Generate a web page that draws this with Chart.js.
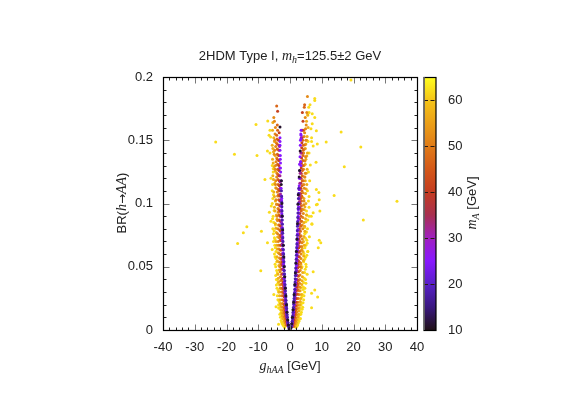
<!DOCTYPE html>
<html>
<head>
<meta charset="utf-8">
<style>
  html, body { margin: 0; padding: 0; background: #fff; }
  #wrap { position: relative; width: 581px; height: 407px; }
  canvas { position: absolute; left: 0; top: 0; }
</style>
<script src="https://cdn.jsdelivr.net/npm/chart.js@4/dist/chart.umd.min.js"></script>
</head>
<body>
<div id="wrap">
  <canvas id="scatter" width="581" height="407"></canvas>
  <canvas id="colorbar" width="581" height="407"></canvas>
</div>
<script>
const xTicks = [-40, -30, -20, -10, 0, 10, 20, 30, 40];
const yTicks = [0, 0.05, 0.1, 0.15, 0.2];
const massTicks = [10, 20, 30, 40, 50, 60];

// colour bar, mass in GeV -> colour
const paletteMass = [10, 15, 20, 25, 30, 35, 40, 45, 50, 55, 60, 65];
const paletteColor = ['#201018', '#3a1880', '#5820c8', '#8818ff', '#a020c0', '#a83050',
  '#c43c20', '#d45818', '#e07c18', '#eba018', '#f5c518', '#ffff20'];

// points, one pair of lists per colour class
const blackG = [-0.3, -0.5, -0.7, -0.95, -1.1, -1.3, -1.45, -1.65, -1.8, -1.95, -2.1, -2.3, -2.45, -2.55, -2.75, -2.7, -3.15,
  0.3, 0.55, 0.75, 0.95, 1.15, 1.3, 1.5, 1.7, 1.85, 2, 2.2, 2.35, 2.5, 2.6, 2.9, 3, 3.2, 0.1, -0.1, 0];
const blackBr = [0.001, 0.004, 0.008, 0.014, 0.02, 0.027, 0.033, 0.042, 0.05, 0.058, 0.067, 0.079, 0.09, 0.1, 0.115, 0.118, 0.1605,
  0.002, 0.005, 0.01, 0.016, 0.022, 0.028, 0.036, 0.045, 0.053, 0.062, 0.072, 0.084, 0.0995, 0.107, 0.121, 0.126, 0.1416, 0.001, 0.001, 0];

const blueG = [0.35, 0.6, 0.8, 0.95, 1.1, 1.2, 1.35, 1.5, 1.6, 1.7, 1.8, 1.95, 2.05, 2.15, 2.25, 2.35, 2.45, 2.55, 2.65, 2.75,
  -0.3, -0.55, -0.75, -0.9, -1.05, -1.2, -1.3, -1.45, -1.55, -1.7, -1.8, -1.9, -2, -2.15, -2.25, -2.35, -2.45, -2.5, -2.6, -2.7,
  0.45, 0.7, 0.88, 1.02, 1.15, 1.28, 1.42, 1.55, 1.65, 1.75, 1.88, 2, 2.1, 2.2, 2.3, 2.4, 2.5, 2.6, 2.7,
  -0.42, -0.65, -0.82, -0.98, -1.12, -1.25, -1.38, -1.5, -1.62, -1.75, -1.85, -1.95, -2.08, -2.2, -2.3, -2.4, -2.48, -2.55, -2.65];
const blueBr = [0.002, 0.005, 0.009, 0.014, 0.018, 0.023, 0.027, 0.032, 0.038, 0.043, 0.049, 0.056, 0.062, 0.068, 0.075, 0.082, 0.089, 0.096, 0.104, 0.112,
  0.002, 0.004, 0.008, 0.012, 0.017, 0.021, 0.026, 0.031, 0.036, 0.042, 0.047, 0.054, 0.06, 0.067, 0.073, 0.08, 0.087, 0.094, 0.101, 0.11,
  0.0035, 0.007, 0.0115, 0.016, 0.0205, 0.025, 0.0295, 0.035, 0.0405, 0.046, 0.0525, 0.059, 0.065, 0.0715, 0.0785, 0.0855, 0.0925, 0.1, 0.108,
  0.003, 0.006, 0.01, 0.0145, 0.019, 0.0235, 0.0285, 0.0335, 0.039, 0.0445, 0.0505, 0.057, 0.0635, 0.07, 0.0765, 0.0835, 0.0905, 0.0975, 0.1055];

const violetG = [0.5, 0.75, 0.95, 1.1, 1.25, 1.4, 1.55, 1.65, 1.8, 1.9, 2, 2.1, 2.2, 2.3, 2.4, 2.5, 2.6, 2.65, 2.75, 2.85, 2.9, 2.95, 3.1, 3, 3.15, 3.25, 3.3, 3.4, 3.5,
  -0.5, -0.7, -0.9, -1.05, -1.2, -1.35, -1.5, -1.6, -1.75, -1.85, -2, -2.05, -2.15, -2.3, -2.35, -2.45, -2.55, -2.6, -2.7, -2.6, -2.65, -2.85, -3, -3.05, -3.05, -3.15, -3.15, -3.15, -3.15,
  0.62, 0.85, 1.02, 1.18, 1.32, 1.48, 1.6, 1.72, 1.85, 1.95, 2.05, 2.15, 2.25, 2.35, 2.45, 2.55, 2.62, 2.7, 2.8, 2.88, 3.38, 3.42, 3.45, 3.5,
  -0.6, -0.8, -0.98, -1.12, -1.28, -1.42, -1.55, -1.68, -1.8, -1.92, -2.02, -2.1, -2.22, -2.32, -2.4, -2.5, -2.58, -2.65, -2.62, -2.8, -2.95, -3];
const violetBr = [0.003, 0.007, 0.011, 0.015, 0.02, 0.025, 0.03, 0.035, 0.04, 0.046, 0.051, 0.057, 0.063, 0.069, 0.076, 0.083, 0.09, 0.095, 0.1, 0.108, 0.114, 0.12, 0.126, 0.131, 0.137, 0.146, 0.15, 0.155, 0.158,
  0.003, 0.006, 0.01, 0.014, 0.018, 0.023, 0.028, 0.033, 0.038, 0.044, 0.05, 0.055, 0.061, 0.067, 0.074, 0.081, 0.087, 0.092, 0.098, 0.104, 0.106, 0.118, 0.132, 0.135, 0.138, 0.142, 0.146, 0.149, 0.152,
  0.005, 0.009, 0.013, 0.0175, 0.0225, 0.0275, 0.0325, 0.0375, 0.043, 0.0485, 0.054, 0.06, 0.066, 0.0725, 0.0795, 0.0865, 0.0925, 0.0975, 0.104, 0.111, 0.133, 0.13, 0.151, 0.154,
  0.0045, 0.008, 0.012, 0.016, 0.0205, 0.0255, 0.0305, 0.0355, 0.041, 0.047, 0.0525, 0.058, 0.064, 0.0705, 0.0775, 0.084, 0.0895, 0.095, 0.102, 0.112, 0.125, 0.128];

const magentaG = [0.65, 0.95, 1.2, 1.4, 1.6, 1.75, 1.95, 2.1, 2.25, 2.4, 2.5, 2.65, 2.75, 2.9, 3, 3.1, 3.2, 3.3, 3.4, 3.55,
  -0.6, -0.9, -1.15, -1.35, -1.55, -1.7, -1.9, -2.05, -2.2, -2.35, -2.45, -2.6, -2.7, -2.85, -2.95, -3.05, -3.15, -3.25, -3.3,
  0.8, 1.08, 1.3, 1.5, 1.68, 1.85, 2.02, 2.18, 2.32, 2.45, 2.58, 2.7, 2.82, 2.95, 3.05, 3.15,
  -0.75, -1.02, -1.25, -1.45, -1.62, -1.8, -1.98, -2.12, -2.28, -2.4, -2.52, -2.65, -2.78, -2.9, -3, -3.1];
const magentaBr = [0.004, 0.009, 0.014, 0.02, 0.026, 0.032, 0.04, 0.047, 0.055, 0.063, 0.071, 0.079, 0.088, 0.097, 0.106, 0.116, 0.124, 0.133, 0.14, 0.152,
  0.004, 0.008, 0.013, 0.018, 0.024, 0.03, 0.037, 0.044, 0.052, 0.06, 0.068, 0.076, 0.085, 0.094, 0.103, 0.112, 0.122, 0.128, 0.145,
  0.0065, 0.0115, 0.017, 0.023, 0.029, 0.036, 0.0435, 0.051, 0.059, 0.067, 0.075, 0.0835, 0.0925, 0.1015, 0.111, 0.12,
  0.006, 0.0105, 0.0155, 0.021, 0.027, 0.0335, 0.0405, 0.048, 0.056, 0.064, 0.072, 0.0805, 0.0895, 0.0985, 0.1075, 0.117];

const redG = [0.8, 1.1, 1.35, 1.55, 1.75, 1.95, 2.1, 2.25, 2.35, 2.5, 2.65, 2.75, 2.85, 2.95, 3.05, 3.2, 3.3, 3.4, 3.5, 3.55, 3.65, 3.7, 3.8, 3.9, 4.1,
  -0.75, -1.05, -1.3, -1.5, -1.7, -1.9, -2.05, -2.2, -2.35, -2.45, -2.6, -2.7, -2.8, -2.95, -3.05, -3.15, -3.25, -3.35, -3.45, -3.5, -3.55, -3.45, -3.4, -3.9,
  0.95, 1.22, 1.45, 1.65, 1.85, 2.02, 2.18, 2.3, 2.42, 2.58, 2.7, 2.8, 2.9, 3, 3.12, 3.25, 3.35, 3.45, 3.52, 3.6, 3.68, 3.75, 3.85,
  -0.9, -1.18, -1.4, -1.6, -1.8, -1.98, -2.12, -2.28, -2.4, -2.52, -2.65, -2.75, -2.88, -3, -3.1, -3.2, -3.3, -3.4, -3.48, -3.52, -3.5, -3.6];
const redBr = [0.004, 0.008, 0.012, 0.017, 0.022, 0.028, 0.034, 0.04, 0.046, 0.052, 0.058, 0.065, 0.072, 0.08, 0.088, 0.096, 0.104, 0.112, 0.12, 0.128, 0.136, 0.144, 0.152, 0.172, 0.165,
  0.005, 0.009, 0.013, 0.018, 0.023, 0.029, 0.035, 0.041, 0.048, 0.054, 0.06, 0.067, 0.074, 0.082, 0.09, 0.098, 0.106, 0.114, 0.122, 0.13, 0.138, 0.146, 0.156, 0.173,
  0.006, 0.01, 0.0145, 0.0195, 0.025, 0.031, 0.037, 0.043, 0.049, 0.055, 0.0615, 0.0685, 0.076, 0.084, 0.092, 0.1, 0.108, 0.116, 0.124, 0.132, 0.14, 0.148, 0.158,
  0.007, 0.011, 0.0155, 0.0205, 0.026, 0.032, 0.038, 0.0445, 0.051, 0.057, 0.0635, 0.0705, 0.078, 0.086, 0.094, 0.102, 0.11, 0.118, 0.126, 0.134, 0.142, 0.15];

const darkOrangeG = [1, 1.4, 1.7, 1.95, 2.2, 2.4, 2.6, 2.7, 2.9, 3, 3.15, 3.3, 3.45, 3.55, 3.6, 3.75, 3.85, 3.9, 4.05, 4.15, 4, 4.3, 4.6, 4.5,
  -0.95, -1.35, -1.65, -1.9, -2.15, -2.35, -2.55, -2.7, -2.85, -3, -3.1, -3.25, -3.4, -3.5, -3.55, -3.7, -3.8, -3.85, -3.95, -4, -4.1, -3.9, -4, -4.2, -4.2,
  1.2, 1.55, 1.82, 2.08, 2.3, 2.5, 2.65, 2.8, 2.95, 3.08, 3.22, 3.38, 3.5, 3.58, 3.68, 3.8, 3.88, 3.98, 4.1, 4.2,
  -1.15, -1.5, -1.78, -2.02, -2.25, -2.45, -2.62, -2.78, -2.92, -3.05, -3.18, -3.32, -3.45, -3.52, -3.62, -3.75, -3.82, -3.9, -3.98, -4.05];
const darkOrangeBr = [0.003, 0.008, 0.013, 0.019, 0.025, 0.032, 0.039, 0.046, 0.054, 0.062, 0.07, 0.078, 0.086, 0.094, 0.102, 0.11, 0.118, 0.126, 0.134, 0.142, 0.15, 0.158, 0.178, 0.176,
  0.004, 0.009, 0.014, 0.02, 0.027, 0.033, 0.04, 0.048, 0.056, 0.063, 0.071, 0.079, 0.087, 0.095, 0.103, 0.111, 0.119, 0.127, 0.135, 0.143, 0.151, 0.158, 0.162, 0.177, 0.154,
  0.0055, 0.0105, 0.016, 0.022, 0.0285, 0.0355, 0.0425, 0.05, 0.058, 0.066, 0.074, 0.082, 0.09, 0.098, 0.106, 0.114, 0.122, 0.13, 0.138, 0.146,
  0.0065, 0.0115, 0.017, 0.0235, 0.03, 0.0365, 0.044, 0.052, 0.0595, 0.067, 0.075, 0.083, 0.091, 0.099, 0.107, 0.115, 0.123, 0.131, 0.139, 0.147];

const orangeG = [1.2, 1.7, 2, 2.3, 2.5, 2.8, 2.9, 3.1, 3.2, 3.4, 3.5, 3.7, 3.9, 4, 3.7, 4.2, 4.3, 3.9, 4.5, 4.2, 4.8, 4.4, 4.9, 4.5, 5, 4.6, 5.1, 4.8, 5.5, 5.3,
  -1.15, -1.6, -1.95, -2.25, -2.45, -2.7, -2.85, -3, -3.2, -3.3, -3.5, -3.7, -3.9, -3.6, -4.1, -3.8, -4.4, -4, -4.6, -4.2, -4.7, -4.4, -5, -4.5, -4.8, -4.6, -4.9, -5.1,
  1.45, 1.85, 2.15, 2.4, 2.65, 2.85, 3, 3.15, 3.3, 3.45, 3.6, 3.8, 3.5, 3.85, 4.05, 3.95, 4.4, 4.1, 4.35, 4.6, 4.25, 4.7, 4.3, 4.75, 4.45, 4.9,
  -1.4, -1.8, -2.1, -2.35, -2.6, -2.8, -2.95, -3.1, -3.25, -3.4, -3.6, -3.35, -3.8, -3.95, -3.7, -4.2, -3.9, -4.3, -4.5, -4.1, -4.55, -4.2, -4.8, -4.35, -4.7];
const orangeBr = [0.003, 0.007, 0.012, 0.017, 0.022, 0.028, 0.034, 0.04, 0.047, 0.053, 0.06, 0.066, 0.072, 0.08, 0.086, 0.092, 0.099, 0.105, 0.112, 0.118, 0.124, 0.13, 0.137, 0.143, 0.15, 0.156, 0.162, 0.168, 0.1845, 0.172,
  0.004, 0.008, 0.013, 0.018, 0.024, 0.03, 0.036, 0.042, 0.05, 0.057, 0.064, 0.07, 0.076, 0.083, 0.09, 0.096, 0.103, 0.109, 0.115, 0.121, 0.127, 0.133, 0.139, 0.145, 0.15, 0.16, 0.165, 0.168,
  0.005, 0.0095, 0.0145, 0.0195, 0.025, 0.031, 0.037, 0.0435, 0.05, 0.0565, 0.063, 0.069, 0.0745, 0.083, 0.089, 0.0955, 0.102, 0.1085, 0.115, 0.121, 0.127, 0.1335, 0.14, 0.1465, 0.153, 0.159,
  0.006, 0.0105, 0.0155, 0.021, 0.027, 0.033, 0.039, 0.046, 0.0535, 0.0605, 0.067, 0.073, 0.08, 0.0865, 0.093, 0.0995, 0.106, 0.112, 0.118, 0.124, 0.13, 0.136, 0.142, 0.148, 0.155];

const amberG = [1.5, 2, 2.5, 2.8, 3.1, 3.4, 3.2, 3.7, 3.9, 3.6, 4.2, 4.1, 4.5, 4.4, 4.6, 4.9, 4.5, 5, 4.9, 5.3, 4.7, 5.4, 5, 5.5, 5, 5.4, 5.7, 5.2, 5.6,
  -1.4, -1.9, -2.4, -2.7, -3, -3.3, -3.1, -3.6, -3.8, -3.5, -4.1, -4, -4.4, -4.3, -4.6, -4.3, -4.9, -4.6, -5.1, -4.8, -5.4, -5, -5.5, -5.2, -5.6, -5.1, -5.5, -5.4,
  1.75, 2.25, 2.65, 2.95, 3.25, 3.55, 3.35, 3.8, 4, 3.4, 4.3, 3.85, 4.25, 4.7, 4.4, 5.2, 4.7, 4.4, 5.1, 4.8, 5.1, 4.8, 5.3, 4.85, 5.3,
  -1.65, -2.15, -2.55, -2.85, -3.15, -3.45, -3.25, -3.7, -3.4, -3.95, -3.75, -4.2, -3.9, -4.45, -4.1, -4.7, -4.25, -4.9, -4.5, -5.2, -4.6, -5.3, -4.7, -5.4, -4.9];
const amberBr = [0.003, 0.006, 0.01, 0.015, 0.02, 0.025, 0.031, 0.036, 0.042, 0.049, 0.055, 0.062, 0.067, 0.074, 0.082, 0.088, 0.095, 0.1, 0.108, 0.115, 0.121, 0.127, 0.135, 0.14, 0.147, 0.153, 0.16, 0.165, 0.17,
  0.004, 0.007, 0.011, 0.016, 0.021, 0.027, 0.033, 0.038, 0.044, 0.051, 0.058, 0.064, 0.07, 0.077, 0.084, 0.091, 0.097, 0.102, 0.109, 0.116, 0.122, 0.129, 0.135, 0.141, 0.146, 0.152, 0.158, 0.164,
  0.0045, 0.008, 0.0125, 0.0175, 0.0225, 0.028, 0.0335, 0.039, 0.0455, 0.052, 0.0585, 0.0645, 0.07, 0.078, 0.085, 0.091, 0.0975, 0.104, 0.1115, 0.118, 0.124, 0.131, 0.1375, 0.1435, 0.15,
  0.0055, 0.009, 0.0135, 0.0185, 0.024, 0.03, 0.0355, 0.041, 0.0475, 0.0545, 0.061, 0.067, 0.0735, 0.0805, 0.0875, 0.094, 0.0995, 0.1055, 0.1125, 0.119, 0.1255, 0.132, 0.138, 0.1435, 0.149];

const yellowG = [1.9, 2.4, 2.8, 3.3, 3.1, 3.6, 4, 3.6, 4.3, 3.9, 4.6, 4.2, 5, 4.5, 5.4, 4.8, 5, 4.6, 5.3, 5.6, 5, 5.3, 6.1, 4.7, 5.5, 6.9, 5.6, 6, 5.2, 6, 5.8, 6, 5.5, 6.2, 5.8, 6,
  -1.7, -2.2, -2.6, -2.4, -3, -2.8, -3.5, -3.2, -3.8, -5.1, -3.6, -4.1, -3.8, -4.3, -4, -4.5, -4.2, -4.7, -4.4, -5.6, -4.8, -7.1, -4.9, -5.2, -5.4, -5.1, -6, -5.3, -6.5, -5.6, -5.4, -5.6, -5.5, -6, -5.3, -5.6,
  7.8, 7.8, 6.3, 5.9, 6, 7, 5.6, 7.8, 7, 16.1, 11.4, 8.6, 7.3, 8.3, 6.6, 6.8, 6.8, 5.7, 17.1, 8.2, 6.4, 8.3, 9.1, 13.9, 9.2, 8.3, 19.2, 22.3, 33.7, 23.1,
  9.4, 8.6, 7.3, 6.7, 6.9, 9.2, 9.7, 8.9, 5.6, 7.3, 7.8, 6.8, 8.7, 6.8, 4.7,
  -23.4, -17.5, -10.4, -10.7, -7, -7.9, -7.1, -6.3, -6.3, -6.6, -6.1, -5.3, -16.5, -14.7, -13.6, -9.2, -9, -4.4, -3.6, -3.5,
  2.1, 2.6, 3, 2.7, 3.4, 3, 3.8, 3.4, 4.1, 3.7, 4.4, 4.1, 4.7, 4.3, 4.9, 4.6, 3.8, 5.1, 4.3, 4.9, 4.4, 4.7, 5.4, 4.9, 5.2, 4.6, 5, 5.3,
  -1.9, -2.4, -2.8, -2.6, -3.2, -3, -3.6, -3.4, -4, -3.7, -4.3, -4, -4.5, -4.2, -4.7, -4.4, -4.9, -4.6, -5.2, -4.7, -5, -4.6, -5.5, -5, -5.9, -5.2];
const yellowBr = [0.002, 0.004, 0.007, 0.009, 0.012, 0.014, 0.018, 0.021, 0.024, 0.028, 0.03, 0.034, 0.037, 0.041, 0.044, 0.048, 0.052, 0.056, 0.059, 0.062, 0.067, 0.071, 0.0737, 0.076, 0.08, 0.084, 0.087, 0.09, 0.094, 0.097, 0.102, 0.1055, 0.11, 0.118, 0.125, 0.14,
  0.002, 0.004, 0.006, 0.009, 0.01, 0.014, 0.0173, 0.02, 0.024, 0.028, 0.03, 0.033, 0.037, 0.04, 0.045, 0.05, 0.054, 0.058, 0.062, 0.0637, 0.067, 0.069, 0.073, 0.076, 0.08, 0.085, 0.086, 0.09, 0.093, 0.1, 0.104, 0.11, 0.115, 0.12, 0.125, 0.13,
  0.183, 0.1815, 0.178, 0.176, 0.172, 0.171, 0.17, 0.168, 0.163, 0.1566, 0.1487, 0.147, 0.1455, 0.1576, 0.159, 0.152, 0.149, 0.149, 0.129, 0.1326, 0.1305, 0.111, 0.1087, 0.1063, 0.103, 0.099, 0.1976, 0.1447, 0.1018, 0.087,
  0.094, 0.0995, 0.0926, 0.09, 0.0835, 0.071, 0.069, 0.065, 0.062, 0.046, 0.0316, 0.029, 0.026, 0.0176, 0.0765,
  0.1487, 0.139, 0.138, 0.1624, 0.1653, 0.119, 0.1416, 0.14, 0.158, 0.154, 0.1526, 0.1274, 0.0684, 0.0769, 0.0816, 0.0468, 0.078, 0.0184, 0.0045, 0.0173,
  0.003, 0.0055, 0.0085, 0.011, 0.0125, 0.016, 0.0165, 0.0195, 0.0215, 0.026, 0.027, 0.032, 0.033, 0.0375, 0.04, 0.0455, 0.05, 0.05, 0.054, 0.0575, 0.0605, 0.065, 0.0685, 0.0725, 0.0775, 0.081, 0.0855, 0.091,
  0.003, 0.005, 0.0075, 0.012, 0.0125, 0.016, 0.02, 0.0225, 0.027, 0.0315, 0.0355, 0.0395, 0.043, 0.047, 0.052, 0.0565, 0.06, 0.065, 0.07, 0.0715, 0.0785, 0.083, 0.088, 0.0945, 0.098, 0.107];

// colour class: lists and its mass; first listed is painted on top
const groups = [
  { mass: 11, g: blackG, br: blackBr },
  { mass: 18, g: blueG, br: blueBr },
  { mass: 25, g: violetG, br: violetBr },
  { mass: 32, g: magentaG, br: magentaBr },
  { mass: 41, g: redG, br: redBr },
  { mass: 47, g: darkOrangeG, br: darkOrangeBr },
  { mass: 52, g: orangeG, br: orangeBr },
  { mass: 57, g: amberG, br: amberBr },
  { mass: 62, g: yellowG, br: yellowBr }
];

const TICK_FONT = { family: '"Liberation Sans"', size: 13 };
const TEXT = '#222';
const SANS = '13px "Liberation Sans"';
const ITALIC = 'italic 14px "Liberation Serif"';
const SUB = 'italic 10px "Liberation Serif"';

function hexToRgb(h) {
  return [1, 3, 5].map(i => parseInt(h.slice(i, i + 2), 16));
}

function massColor(m) {
  let i = 0;
  while (i < paletteMass.length - 2 && m > paletteMass[i + 1]) i++;
  const t = (m - paletteMass[i]) / (paletteMass[i + 1] - paletteMass[i]);
  const a = hexToRgb(paletteColor[i]), b = hexToRgb(paletteColor[i + 1]);
  return `rgb(${a.map((v, k) => Math.round(v + (b[k] - v) * t)).join(',')})`;
}

// mixed font text, centred on x,y
function drawRuns(ctx, runs, x, y, rotate) {
  ctx.save();
  ctx.translate(x, y);
  if (rotate) ctx.rotate(-Math.PI / 2);
  ctx.fillStyle = TEXT;
  ctx.textBaseline = 'alphabetic';
  ctx.textAlign = 'left';
  let total = 0;
  runs.forEach(r => { ctx.font = r.font; total += ctx.measureText(r.text).width; });
  let pos = -total / 2;
  runs.forEach(r => {
    ctx.font = r.font;
    ctx.fillText(r.text, pos, r.dy || 0);
    pos += ctx.measureText(r.text).width;
  });
  ctx.restore();
}

function tickLine(ctx, x1, y1, x2, y2, color) {
  ctx.strokeStyle = color;
  ctx.beginPath();
  ctx.moveTo(x1, y1);
  ctx.lineTo(x2, y2);
  ctx.stroke();
}

const framePlugin = {
  id: 'frame',
  afterDraw(chart) {
    const { ctx, chartArea: a, scales } = chart;
    const left = Math.round(a.left) + 0.5, right = Math.round(a.right) + 0.5;
    const top = Math.round(a.top) + 0.5, bottom = Math.round(a.bottom) + 0.5;
    ctx.save();
    ctx.lineWidth = 1;
    for (let v = -40; v <= 40; v += 2) {
      const px = Math.round(scales.x.getPixelForValue(v)) + 0.5;
      const major = v % 10 === 0;
      const len = major ? 6 : 3;
      const col = major ? '#777' : '#222';
      tickLine(ctx, px, bottom, px, bottom - len, col);
      tickLine(ctx, px, top, px, top + len, col);
    }
    for (let k = 0; k <= 20; k++) {
      const py = Math.round(scales.y.getPixelForValue(k / 100)) + 0.5;
      const major = k % 5 === 0;
      const len = major ? 6 : 3;
      const col = major ? '#777' : '#222';
      tickLine(ctx, left, py, left + len, py, col);
      tickLine(ctx, right, py, right - len, py, col);
    }
    ctx.strokeStyle = '#000';
    ctx.lineWidth = 1.2;
    ctx.strokeRect(left, top, right - left, bottom - top);
    ctx.restore();

    drawRuns(ctx, [
      { text: '2HDM Type I, ', font: SANS },
      { text: 'm', font: ITALIC },
      { text: 'h', font: SUB, dy: 2.5 },
      { text: '=125.5\u00b12 GeV', font: SANS }
    ], 290, 60);
    drawRuns(ctx, [
      { text: 'g', font: ITALIC },
      { text: 'hAA', font: SUB, dy: 2.5 },
      { text: ' [GeV]', font: SANS }
    ], 290, 370);
    drawRuns(ctx, [
      { text: 'BR(', font: SANS },
      { text: 'h', font: ITALIC },
      { text: '\u2192', font: '12px "DejaVu Sans"' },
      { text: 'AA', font: ITALIC },
      { text: ')', font: SANS }
    ], 126, 203, true);
  }
};

const barFramePlugin = {
  id: 'barFrame',
  afterDraw(chart) {
    const { ctx, chartArea: a, scales } = chart;
    ctx.save();
    ctx.lineWidth = 1;
    ctx.setLineDash([4, 2.5]);
    massTicks.slice(1).forEach(v => {
      const py = Math.round(scales.y.getPixelForValue(v)) + 0.5;
      tickLine(ctx, a.left, py, a.right, py, '#2a1a10');
    });
    ctx.setLineDash([]);
    ctx.lineWidth = 1.2;
    ctx.strokeStyle = '#000';
    ctx.strokeRect(a.left, Math.round(a.top) + 0.5, a.right - a.left, Math.round(a.bottom - a.top));
    ctx.lineWidth = 1.5;
    tickLine(ctx, a.left, a.top, a.left, a.bottom, '#777');
    ctx.restore();
    drawRuns(ctx, [
      { text: 'm', font: ITALIC },
      { text: 'A', font: SUB, dy: 2.5 },
      { text: ' [GeV]', font: SANS }
    ], 476, 203, true);
  }
};

new Chart(document.getElementById('scatter'), {
  type: 'scatter',
  data: {
    datasets: groups.map(gr => ({
      label: 'mA ' + gr.mass,
      data: gr.g.map((g, i) => ({ x: g, y: gr.br[i] })),
      backgroundColor: massColor(gr.mass),
      borderWidth: 0,
      pointRadius: 1.5,
      pointHoverRadius: 1.5
    }))
  },
  options: {
    responsive: false,
    animation: false,
    layout: { padding: { left: 0, right: 164, top: 77, bottom: 0 } },
    plugins: { legend: { display: false }, tooltip: { enabled: false } },
    scales: {
      x: {
        type: 'linear',
        min: -40,
        max: 40,
        afterBuildTicks: s => { s.ticks = xTicks.map(v => ({ value: v })); },
        afterFit: s => { s.height = 77; },
        grid: { display: false, drawTicks: false },
        border: { display: false },
        ticks: { font: TICK_FONT, color: TEXT, padding: 10, maxRotation: 0, autoSkip: false }
      },
      y: {
        type: 'linear',
        min: 0,
        max: 0.2,
        afterBuildTicks: s => { s.ticks = yTicks.map(v => ({ value: v })); },
        afterFit: s => { s.width = 163; },
        grid: { display: false, drawTicks: false },
        border: { display: false },
        ticks: { font: TICK_FONT, color: TEXT, padding: 10, callback: v => String(v) }
      }
    }
  },
  plugins: [framePlugin]
});

new Chart(document.getElementById('colorbar'), {
  type: 'bar',
  data: {
    labels: ['mA'],
    datasets: [{
      data: [[10, 65]],
      barPercentage: 1,
      categoryPercentage: 1,
      borderWidth: 0,
      backgroundColor(c) {
        const { ctx, chartArea } = c.chart;
        if (!chartArea) return paletteColor[0];
        const grad = ctx.createLinearGradient(0, chartArea.bottom, 0, chartArea.top);
        paletteMass.forEach((m, i) => grad.addColorStop((m - 10) / 55, paletteColor[i]));
        return grad;
      }
    }]
  },
  options: {
    responsive: false,
    animation: false,
    layout: { padding: { left: 424, right: 65, top: 77, bottom: 77 } },
    plugins: { legend: { display: false }, tooltip: { enabled: false } },
    scales: {
      x: { display: false },
      y: {
        position: 'right',
        min: 10,
        max: 65,
        afterBuildTicks: s => { s.ticks = massTicks.map(v => ({ value: v })); },
        afterFit: s => { s.width = 80; },
        grid: { display: false, drawTicks: false },
        border: { display: false },
        ticks: { font: TICK_FONT, color: TEXT, padding: 12 }
      }
    }
  },
  plugins: [barFramePlugin]
});
</script>
</body>
</html>
